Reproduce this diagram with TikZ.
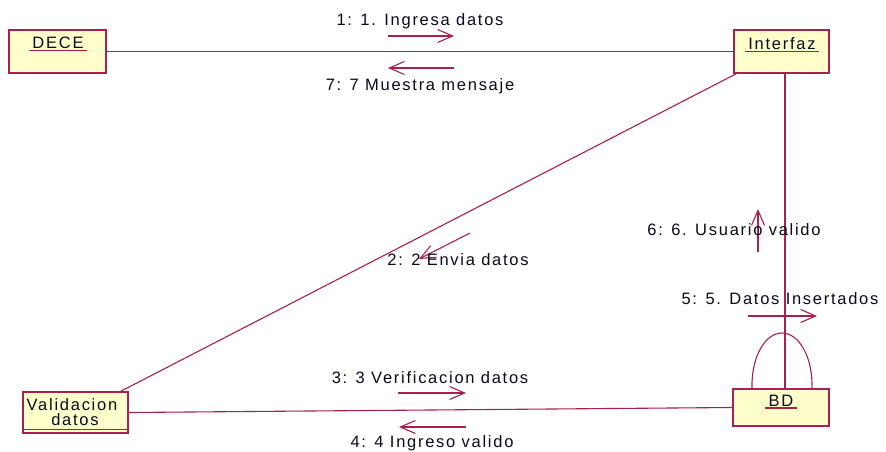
\documentclass[tikz,border=0pt]{standalone}
\usepackage{fontspec}
\setmainfont{Liberation Sans}[LetterSpace=10.5]
\usetikzlibrary{arrows.meta,calc}
\definecolor{ln}{RGB}{170,30,80}
\definecolor{bx}{RGB}{255,255,204}
\definecolor{tx}{RGB}{10,10,30}
\begin{document}
\begin{tikzpicture}[x=1pt,y=-1pt,
  obj/.style={draw=ln, fill=bx, line width=1.4pt, inner sep=0pt},
  lbl/.style={text=tx, font=\fontsize{16.5}{18}\selectfont, inner sep=0pt},
  ttl/.style={lbl, inner xsep=3pt, inner ysep=0pt},
  conn/.style={draw=ln, line width=1.1pt},
  msg/.style={draw=ln, line width=1.1pt, -{Straight Barb[length=15pt,width=13pt,line width=1.1pt]}},
  uline/.style={draw=ln, line width=1.2pt}]
\useasboundingbox (0,0) rectangle (886,452);
\fill[white] (0,0) rectangle (886,452);

% objects
\node[obj, minimum width=97pt, minimum height=43pt] (dece) at (57.5,51.5) {};
\node[obj, minimum width=95pt, minimum height=43pt] (interfaz) at (781.5,51.5) {};
\node[obj, minimum width=105pt, minimum height=41pt] (val) at (75.5,412.5) {};
\node[obj, minimum width=96pt, minimum height=37pt] (bd) at (781,407.5) {};

% titles
\node[ttl, anchor=base] (dece-t) at (58,48.5) {DECE};
\draw[uline] ([yshift=-2pt]dece-t.base west) -- ([yshift=-2pt]dece-t.base east);
\node[ttl, anchor=base] (interfaz-t) at (782,49.5) {Interfaz};
\draw[uline] ([yshift=-2pt]interfaz-t.base west) -- ([yshift=-2pt]interfaz-t.base east);
\node[ttl, anchor=base] (bd-t) at (781,406) {BD};
\draw[uline] ([yshift=-2pt]bd-t.base west) -- ([yshift=-2pt]bd-t.base east);
\node[lbl, anchor=base] (val-t1) at (72,410) {Validacion};
\node[lbl, anchor=base] (val-t2) at (75,425) {datos};
\draw[draw=ln, line width=1.1pt] ([yshift=4pt]val.south west) -- ([yshift=4pt]val.south east);

% links
\draw[conn] (dece.east) -- (interfaz.west);
\draw[conn] ([xshift=3pt]interfaz.south west) -- ([xshift=-8pt]val.north east);
\draw[conn] ([xshift=3.5pt]interfaz.south) -- ([xshift=4pt]bd.north);
\draw[conn] (val.east) -- (bd.west);
\coordinate (loopa) at (752,389);
\coordinate (looptop) at (782,333);
\coordinate (loopb) at (812,389);
\draw[conn] (loopa) .. controls (751,357) and (765,333) .. (looptop)
                    .. controls (799,333) and (813,357) .. (loopb);

% messages
\coordinate (m1a) at (388,36); \coordinate (m1b) at (454,36);
\draw[msg] (m1a) -- (m1b);
\node[lbl, anchor=base] (m1) at (420,25.5) {1: 1. Ingresa datos};

\coordinate (m7a) at (454,68); \coordinate (m7b) at (388,68);
\draw[msg] (m7a) -- (m7b);
\node[lbl, anchor=base] (m7) at (420,90) {7: 7 Muestra mensaje};

\coordinate (m2a) at (470,233); \coordinate (m2b) at (419,259);
\draw[msg] (m2a) -- (m2b);
\node[lbl, anchor=base] (m2) at (458,265) {2: 2 Envia datos};

\coordinate (m3a) at (398,393); \coordinate (m3b) at (466,393);
\draw[msg] (m3a) -- (m3b);
\node[lbl, anchor=base] (m3) at (430,383) {3: 3 Verificacion datos};

\coordinate (m4a) at (466,427); \coordinate (m4b) at (399,427);
\draw[msg] (m4a) -- (m4b);
\node[lbl, anchor=base] (m4) at (432,447) {4: 4 Ingreso valido};

\coordinate (m5a) at (748,316); \coordinate (m5b) at (817,316);
\draw[msg] (m5a) -- (m5b);
\node[lbl, anchor=base] (m5) at (780,304) {5: 5. Datos Insertados};

\coordinate (m6a) at (758,252); \coordinate (m6b) at (758,209);
\draw[msg] (m6a) -- (m6b);
\node[lbl, anchor=base] (m6) at (734,235) {6: 6. Usuario valido};
\end{tikzpicture}
\end{document}
